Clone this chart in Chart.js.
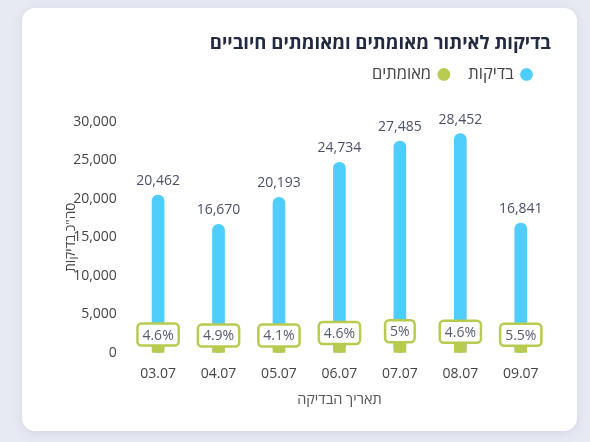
<!DOCTYPE html>
<html><head><meta charset="utf-8">
<script src="https://cdn.jsdelivr.net/npm/chart.js@4"></script>
<style>
html,body{margin:0;padding:0;background:#e7eaf2;width:590px;height:442px;overflow:hidden;font-family:"Open Sans","DejaVu Sans",sans-serif}
#card{position:absolute;left:22px;top:8px;width:555px;height:423px;background:#fff;border-radius:13px;box-shadow:0 2px 10px rgba(150,160,190,0.25)}
#wrap{position:absolute;left:0;top:0;width:555px;height:423px}
</style></head>
<body>
<div id="card"><div id="wrap"><canvas id="c"></canvas></div></div>
<script>
const categories = ["03.07","04.07","05.07","06.07","07.07","08.07","09.07"];
const tests = [20462,16670,20193,24734,27485,28452,16841];
const confirmed = [941,817,828,1138,1374,1309,926];
const positivePct = ["4.6","4.9","4.1","4.6","5","4.6","5.5"];
const yTicks = [0,5000,10000,15000,20000,25000,30000];
const seriesNames = ["בדיקות","מאומתים"];
const titleText = "בדיקות לאיתור מאומתים ומאומתים חיוביים";
const xTitle = "תאריך הבדיקה";
const yTitle = "סה\"כ בדיקות";

const BLUE = "#4fcdfd", GREEN = "#b8cb50";
const FONT = "'Open Sans','DejaVu Sans',sans-serif";

const legendGap = {
  id: "legendGap",
  beforeInit(chart) {
    const lg = chart.legend;
    if (!lg) return;
    const orig = lg.fit;
    lg.fit = function () { orig.call(this); this.height += 29; };
  }
};

const labelPlugin = {
  id: "valueLabels",
  afterDatasetsDraw(chart) {
    const ctx = chart.ctx;
    ctx.save();
    const m0 = chart.getDatasetMeta(0);
    ctx.font = "14px " + FONT;
    ctx.fillStyle = "#4a5068";
    ctx.textAlign = "center";
    ctx.textBaseline = "bottom";
    m0.data.forEach((bar, i) => {
      ctx.fillText(tests[i].toLocaleString("en-US"), bar.x, bar.y - 7);
    });
    const m1 = chart.getDatasetMeta(1);
    m1.data.forEach((bar, i) => {
      const txt = positivePct[i] + "%";
      ctx.font = "14px " + FONT;
      const w = ctx.measureText(txt).width + 10;
      const h = 22;
      const x = bar.x - w / 2, y = bar.y - h;
      ctx.beginPath();
      ctx.roundRect(x, y, w, h, 4);
      ctx.fillStyle = "#fff";
      ctx.fill();
      ctx.lineWidth = 2.5;
      ctx.strokeStyle = GREEN;
      ctx.stroke();
      ctx.fillStyle = "#555b70";
      ctx.textBaseline = "middle";
      ctx.fillText(txt, bar.x, y + h / 2 + 1);
    });
    ctx.restore();
  }
};

new Chart(document.getElementById("c"), {
  type: "bar",
  data: {
    labels: categories,
    datasets: [
      { label: seriesNames[0], data: tests, backgroundColor: BLUE, barThickness: 12, borderRadius: 6, borderSkipped: false, order: 2 },
      { label: seriesNames[1], data: confirmed, backgroundColor: GREEN, barThickness: 12, borderRadius: 0, order: 1 }
    ]
  },
  options: {
    responsive: true,
    maintainAspectRatio: false,
    animation: false,
    layout: { padding: { left: 41, right: 26, top: 18, bottom: 18 } },
    plugins: {
      title: { display: true, text: titleText, align: "end", color: "#222a3f",
        font: { family: FONT, size: 18.5, weight: "bold" }, padding: { top: 7, bottom: -9 } },
      legend: { display: true, align: "start", rtl: true,
        labels: { usePointStyle: true, pointStyle: "circle", boxWidth: 9, boxHeight: 9, color: "#444",
          font: { family: FONT, size: 16.5 }, padding: 20,
          sort: (a, b) => a.datasetIndex - b.datasetIndex } },
      tooltip: { enabled: false }
    },
    scales: {
      x: { stacked: true, grid: { display: false }, border: { display: false },
        ticks: { color: "#444", font: { family: FONT, size: 14 }, padding: 5 },
        title: { display: true, text: xTitle, color: "#555", font: { family: FONT, size: 14.5 }, padding: { top: 4 } } },
      y: { stacked: false, min: 0, max: 30000, grid: { display: false }, border: { display: false },
        afterBuildTicks: (s) => { s.ticks = yTicks.map(v => ({ value: v })); },
        ticks: { color: "#444", font: { family: FONT, size: 14 }, padding: 3,
          callback: (v) => Number(v).toLocaleString("en-US") },
        title: { display: true, text: yTitle, color: "#444", font: { family: FONT, size: 13.5 }, padding: { top: 0, bottom: -9 } } }
    }
  },
  plugins: [labelPlugin, legendGap]
});
</script>
</body></html>
